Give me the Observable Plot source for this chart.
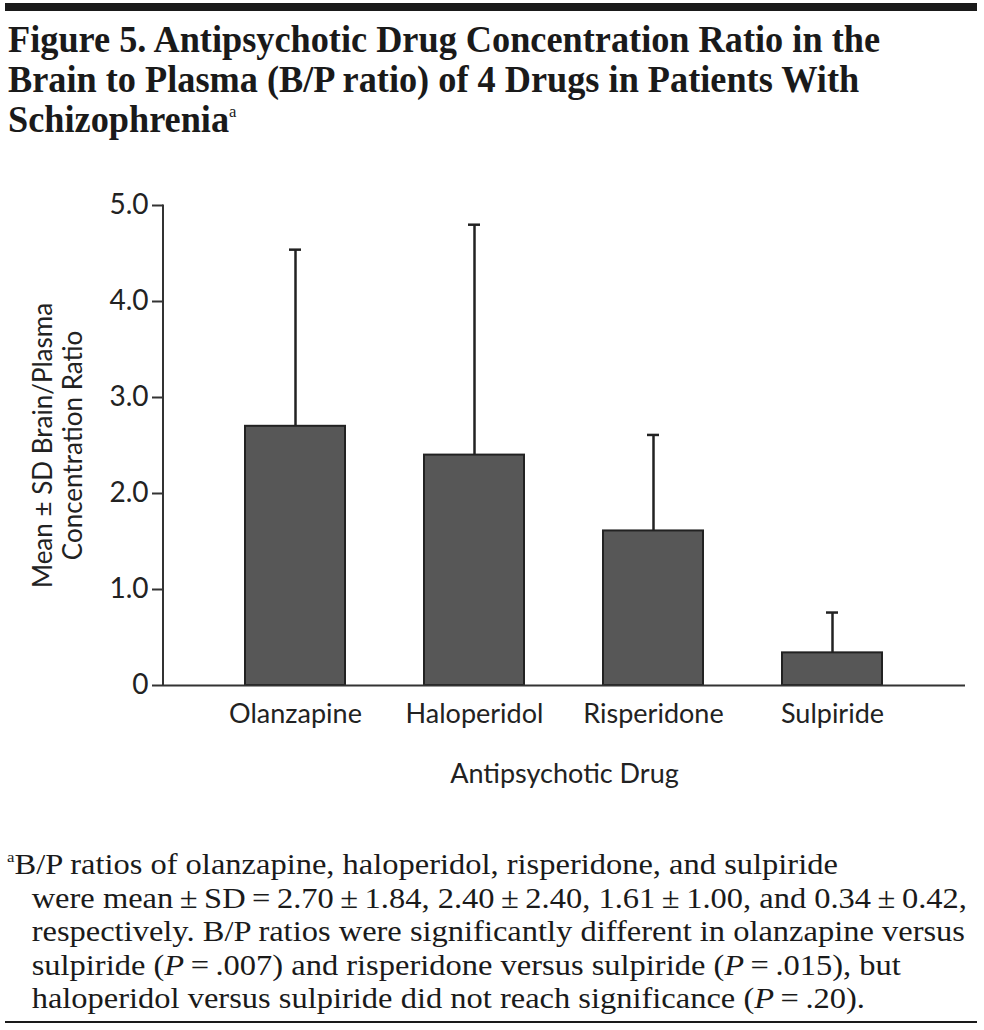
<!DOCTYPE html>
<html>
<head>
<meta charset="utf-8">
<script src="https://cdn.jsdelivr.net/npm/d3@7"></script>
<script src="https://cdn.jsdelivr.net/npm/@observablehq/plot@0.6"></script>
<style>
  html, body { margin: 0; padding: 0; background: #fff; }
  body { width: 984px; height: 1030px; position: relative; overflow: hidden; }
  .rule-top { position: absolute; left: 5px; top: 3px; width: 972px; height: 8px; background: #1a1a1a; }
  .rule-bottom { position: absolute; left: 5px; top: 1021px; width: 972px; height: 2px; background: #1a1a1a; }
  .title { position: absolute; left: 8px; top: 20px; font-family: "Liberation Serif", serif; font-weight: bold;
           font-size: 37px; line-height: 40px; color: #1a1a1a; white-space: nowrap; transform-origin: 0 0; }
  .title sup { font-size: 17px; vertical-align: 15px; line-height: 0; font-weight: normal; }
  #chart { position: absolute; left: 0; top: 180px; }
  .note { position: absolute; left: 7px; top: 848px; font-family: "Liberation Serif", serif; font-size: 29px;
          line-height: 33.5px; color: #1a1a1a; white-space: nowrap; transform-origin: 0 0; }
  .note .ind { padding-left: 22px; }
  .note sup { font-size: 15px; vertical-align: 12px; line-height: 0; }
</style>
</head>
<body>
<div class="rule-top"></div>
<div class="title" id="title"><span id="t1">Figure 5. Antipsychotic Drug Concentration Ratio in the</span><br><span>Brain to Plasma (B/P ratio) of 4 Drugs in Patients With</span><br><span>Schizophrenia<sup>a</sup></span></div>
<div id="chart"></div>
<div class="note" id="note"><span><sup>a</sup>B/P ratios of olanzapine, haloperidol, risperidone, and sulpiride</span><br><span class="ind">were mean&#8201;±&#8201;SD&#8201;=&#8201;2.70&#8201;±&#8201;1.84, 2.40&#8201;±&#8201;2.40, 1.61&#8201;±&#8201;1.00, and 0.34&#8201;±&#8201;0.42,</span><br><span class="ind" id="n3">respectively. B/P ratios were significantly different in olanzapine versus</span><br><span class="ind">sulpiride (<i>P</i>&#8201;=&#8201;.007) and risperidone versus sulpiride (<i>P</i>&#8201;=&#8201;.015), but</span><br><span class="ind">haloperidol versus sulpiride did not reach significance (<i>P</i>&#8201;=&#8201;.20).</span></div>
<div class="rule-bottom"></div>
<script>
const drugs = ["Olanzapine", "Haloperidol", "Risperidone", "Sulpiride"];
const means = [2.70, 2.40, 1.61, 0.34];
const sds = [1.84, 2.40, 1.00, 0.42];
const yTicks = [0, 1, 2, 3, 4, 5];
const yLabel = "Mean ± SD Brain/Plasma\nConcentration Ratio";
const xLabel = "Antipsychotic Drug";

const data = drugs.map((d, i) => ({drug: d, mean: means[i], top: means[i] + sds[i]}));

const sans = "Lato, 'Open Sans', sans-serif";
const ink = "#222";

const yAxisLine = (index, scales, values, dims) => {
  const x = dims.marginLeft;
  const ln = document.createElementNS("http://www.w3.org/2000/svg", "line");
  ln.setAttribute("x1", x); ln.setAttribute("x2", x);
  ln.setAttribute("y1", scales.y(5) - 0.5); ln.setAttribute("y2", scales.y(0) + 1);
  ln.setAttribute("stroke", "#333"); ln.setAttribute("stroke-width", 2);
  return ln;
};

const chart = Plot.plot({
  width: 984,
  height: 625,
  marginTop: 25,
  marginLeft: 163,
  marginRight: 19,
  marginBottom: 120,
  style: {fontFamily: sans, color: ink, background: "transparent", overflow: "visible"},
  x: {domain: drugs, paddingInner: 0.44, paddingOuter: 0.448, align: 0.5},
  y: {domain: [0, 5]},
  marks: [
    Plot.barY(data, {x: "drug", y: "mean", fill: "#575757", stroke: ink, strokeWidth: 2}),
    Plot.ruleX(data, {x: "drug", y1: "mean", y2: "top", stroke: ink, strokeWidth: 2.5}),
    Plot.tickY(data, {x: "drug", y: "top", stroke: ink, strokeWidth: 2.5, insetLeft: 44, insetRight: 44}),
    Plot.ruleY([0], {stroke: "#333", strokeWidth: 2}),
    yAxisLine,
    Plot.axisY({ticks: yTicks, tickFormat: d => d === 0 ? "0" : d.toFixed(1), tickSize: 11, tickPadding: 4,
                fontSize: 28, label: null, stroke: "#333", strokeWidth: 2, fill: ink}),
    Plot.axisX({tickSize: 0, tickPadding: 18, fontSize: 27, label: null, fill: ink}),
    Plot.text([xLabel], {frameAnchor: "bottom", dy: 97, fontSize: 27, fill: ink}),
    Plot.text([yLabel], {frameAnchor: "left", dx: -106, rotate: -90, textAnchor: "middle", lineAnchor: "middle",
                         fontSize: 26, lineHeight: 1.15, fill: ink})
  ]
});
document.getElementById("chart").appendChild(chart);

function fit(el, line, target) {
  el.style.transform = "none";
  const w = line.getBoundingClientRect().width;
  if (w > 0) el.style.transform = `scaleX(${target / w})`;
}
function fitAll() {
  fit(document.getElementById("title"), document.getElementById("t1"), 872);
  fit(document.getElementById("note"), document.getElementById("n3"), 958);
}
fitAll();
if (document.fonts && document.fonts.ready) document.fonts.ready.then(fitAll);
</script>
</body>
</html>
